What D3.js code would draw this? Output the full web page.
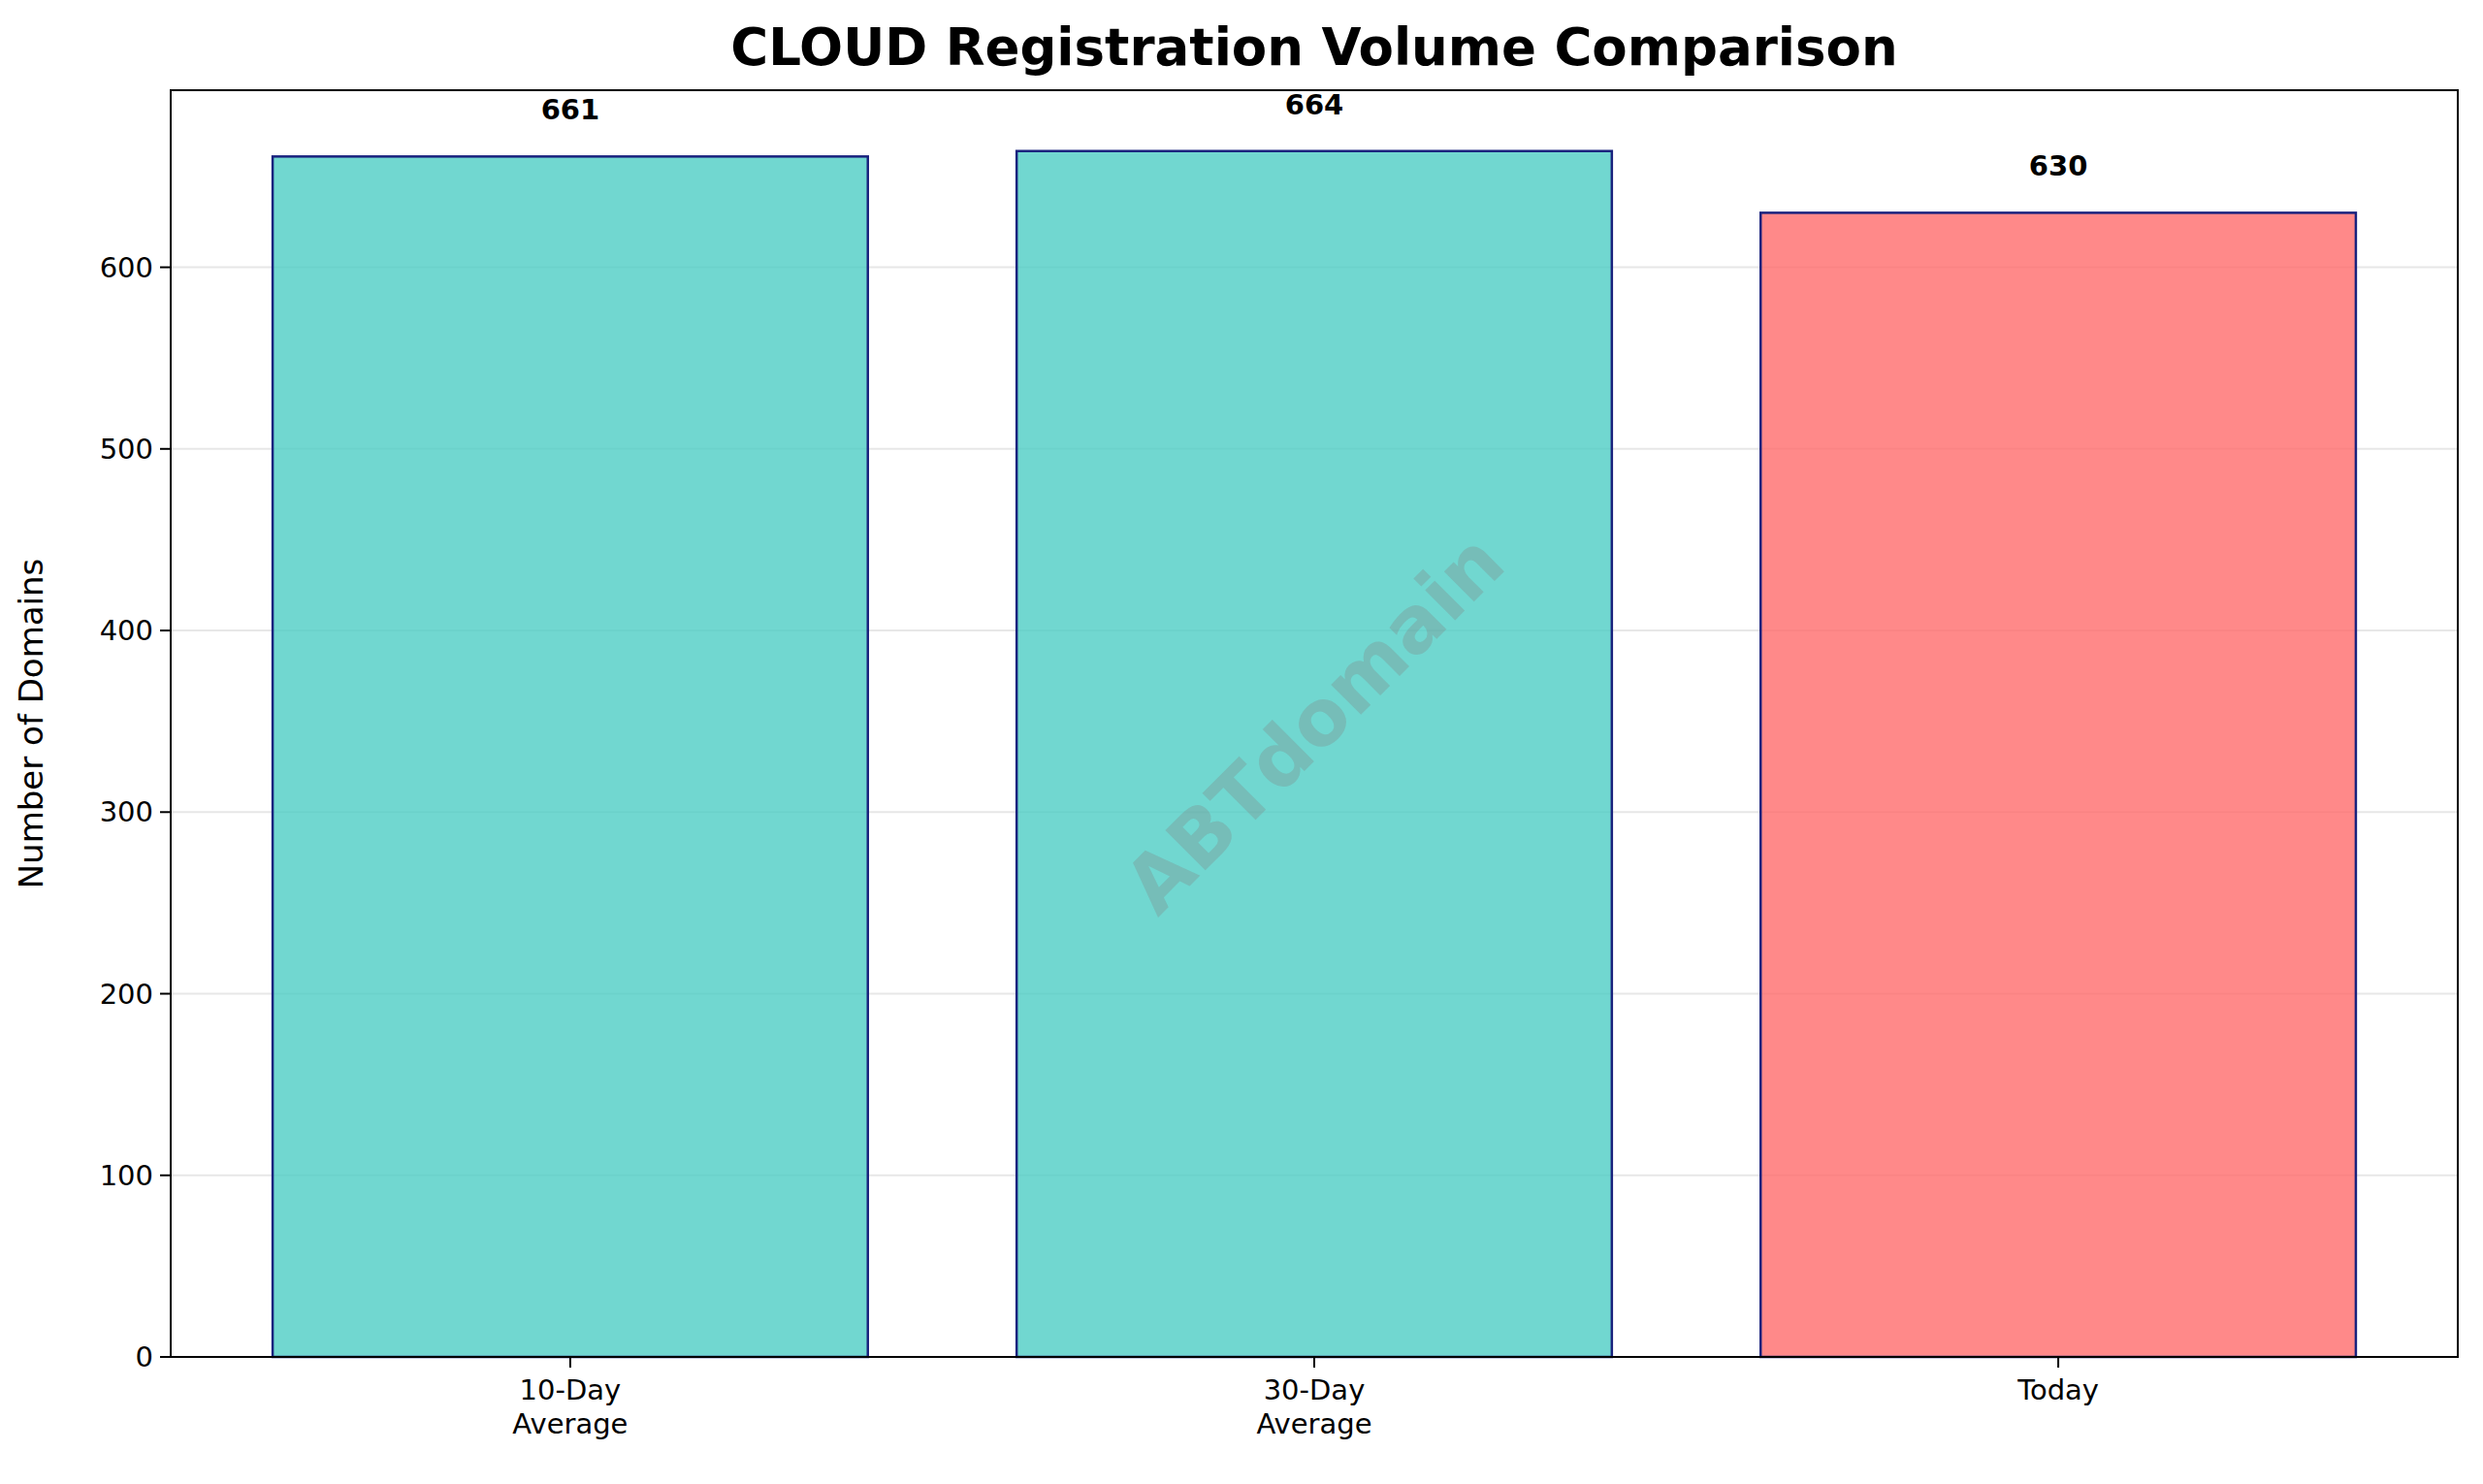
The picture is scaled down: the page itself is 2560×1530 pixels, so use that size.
<!DOCTYPE html>
<html><head><meta charset="utf-8">
<script src="https://cdn.jsdelivr.net/npm/d3@7"></script>
<style>body{margin:0;background:#fff}svg{font-family:"DejaVu Sans",sans-serif}</style>
</head><body><svg id="c" width="2560" height="1530"></svg>
<script>
const categories=["10-Day\nAverage","30-Day\nAverage","Today"];
const values=[661,664,630];
const colors=["#4ECDC4","#4ECDC4","#FF6B6B"];
const yTicks=[0,100,200,300,400,500,600];
const svg=d3.select("#c");
const L=176,R=2534,T=93,B=1399;
const x=d3.scaleLinear().domain([-0.537,2.537]).range([L,R]);
const y=d3.scaleLinear().domain([0,697.5]).range([B,T]);
const bw=x(0.8)-x(0);
svg.append("g").selectAll("line").data(yTicks.slice(1)).join("line")
 .attr("x1",L).attr("x2",R).attr("y1",d=>y(d)).attr("y2",d=>y(d))
 .attr("stroke","#b0b0b0").attr("stroke-opacity",0.3).attr("stroke-width",2);
svg.append("g").selectAll("rect").data(values).join("rect")
 .attr("x",(d,i)=>x(i)-bw/2).attr("width",bw).attr("y",d=>y(d)).attr("height",d=>B-y(d))
 .attr("fill",(d,i)=>colors[i]).attr("fill-opacity",0.8).attr("stroke","#1a237e").attr("stroke-width",2.5);
svg.append("g").selectAll("text").data(values).join("text")
 .attr("x",(d,i)=>x(i)).attr("y",d=>y(d)-38).attr("text-anchor","middle")
 .attr("font-size",29).attr("font-weight","bold").text(d=>d);
svg.append("text").attr("transform","translate(1355,746) rotate(-45)").attr("text-anchor","middle")
 .attr("dominant-baseline","central").attr("font-size",80).attr("font-weight","bold")
 .attr("fill","#808080").attr("fill-opacity",0.3).text("ABTdomain");
svg.append("rect").attr("x",L).attr("y",T).attr("width",R-L).attr("height",B-T).attr("fill","none").attr("stroke","#000").attr("stroke-width",2);
const ya=svg.append("g").selectAll("g").data(yTicks).join("g");
ya.append("line").attr("x1",L-11).attr("x2",L).attr("y1",d=>y(d)).attr("y2",d=>y(d)).attr("stroke","#000").attr("stroke-width",2);
ya.append("text").attr("x",L-18).attr("y",d=>y(d)).attr("dy","0.35em").attr("text-anchor","end").attr("font-size",29).text(d=>d);
const xa=svg.append("g").selectAll("g").data(categories).join("g");
xa.append("line").attr("x1",(d,i)=>x(i)).attr("x2",(d,i)=>x(i)).attr("y1",B).attr("y2",B+11).attr("stroke","#000").attr("stroke-width",2);
xa.each(function(d,i){const t=d3.select(this).append("text").attr("text-anchor","middle").attr("font-size",29);
 d.split("\n").forEach((s,j)=>t.append("tspan").attr("x",x(i)).attr("y",B+44+j*35).text(s));});
svg.append("text").attr("transform","translate(44,746) rotate(-90)").attr("text-anchor","middle").attr("font-size",34).text("Number of Domains");
svg.append("text").attr("x",(L+R)/2).attr("y",67).attr("text-anchor","middle").attr("font-size",53).attr("font-weight","bold").text("CLOUD Registration Volume Comparison");
</script></body></html>
